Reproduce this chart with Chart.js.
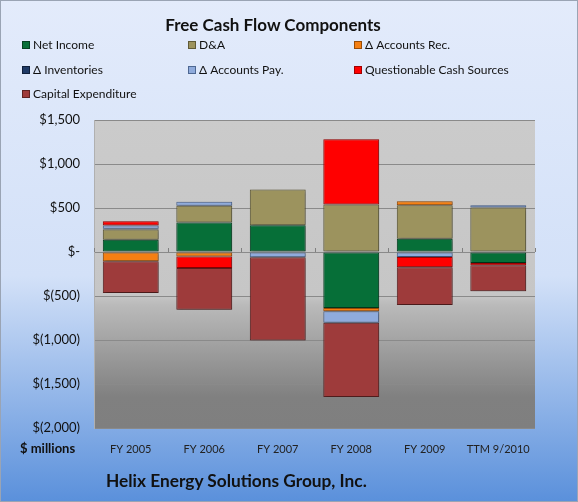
<!DOCTYPE html>
<html>
<head>
<meta charset="utf-8">
<script src="https://cdn.jsdelivr.net/npm/chart.js@4"></script>
<style>
	html, body { margin: 0; padding: 0; }
	body { width: 578px; height: 502px; overflow: hidden; font-family: Lato, "Open Sans", sans-serif; }
	#wrap { position: relative; width: 578px; height: 502px; }
	#chart { position: absolute; left: 0; top: 0; }
	.txt { position: absolute; color: #111; white-space: nowrap; }
	.title { left: 0; width: 546px; top: 14px; text-align: center; font-weight: bold; font-size: 17px; }
	.leg { position: absolute; font-size: 12px; color: #111; line-height: 14px; }
	.leg i { display: inline-block; width: 8px; height: 8px; margin-right: 3px; box-sizing: border-box; }
	.foot { left: 106px; top: 470px; font-weight: bold; font-size: 17.3px; }
	.unit { left: 20px; top: 440px; font-weight: bold; font-size: 13px; }
</style>
</head>
<body>
<div id="wrap">
	<canvas id="chart" width="578" height="502"></canvas>
	<div class="txt title">Free Cash Flow Components</div>
	<div id="legend"></div>
	<div class="txt unit">$ millions</div>
	<div class="txt foot">Helix Energy Solutions Group, Inc.</div>
</div>
<script>
const categories = ['FY 2005', 'FY 2006', 'FY 2007', 'FY 2008', 'FY 2009', 'TTM 9/2010'];
const netIncome = [140, 335, 305, -636, 150, -125];
const depreciation = [115, 190, 405, 540, 380, 505];
const accountsRec = [-105, -50, 0, -38, 48, 0];
const inventories = [10, 0, 0, 0, 0, 0];
const accountsPay = [35, 45, -60, -130, -57, 27];
const questionable = [50, -133, 0, 740, -117, -25];
const capex = [-360, -472, -945, -845, -428, -295];
const yTicks = [1500, 1000, 500, 0, -500, -1000, -1500, -2000];

const series = [
	{ label: 'Net Income', data: netIncome, color: '#066f38', edge: '#034020' },
	{ label: 'D&A', data: depreciation, color: '#9c935e', edge: '#5f5a38' },
	{ label: 'Δ Accounts Rec.', data: accountsRec, color: '#f57f12', edge: '#9a4c06' },
	{ label: 'Δ Inventories', data: inventories, color: '#1f3a66', edge: '#0f1f3a' },
	{ label: 'Δ Accounts Pay.', data: accountsPay, color: '#8fabdc', edge: '#4d6792' },
	{ label: 'Questionable Cash Sources', data: questionable, color: '#ff0000', edge: '#a00000' },
	{ label: 'Capital Expenditure', data: capex, color: '#9e3b3b', edge: '#5e2222' }
];

// legend in three columns
const legX = [22, 188, 354];
const legY = [38, 63, 87];
const legBox = document.getElementById('legend');
series.forEach((s, i) => {
	const d = document.createElement('div');
	d.className = 'leg';
	d.style.left = legX[i % 3] + 'px';
	d.style.top = legY[Math.floor(i / 3)] + 'px';
	d.innerHTML = `<i style="background:${s.color};border:1px solid ${s.edge}"></i>${s.label}`;
	legBox.append(d);
});

function money(v) {
	if (v === 0) return '$-';
	const s = Math.abs(v).toLocaleString('en-US');
	return v < 0 ? '$(' + s + ')' : '$' + s;
}

const backgrounds = {
	id: 'backgrounds',
	beforeDraw(chart) {
		const { ctx, chartArea: a, width, height } = chart;
		ctx.save();
		const g = ctx.createLinearGradient(0, 0, 0, height);
		g.addColorStop(0, '#e3ebfb');
		g.addColorStop(0.55, '#d3e1f8');
		g.addColorStop(1, '#5a90db');
		ctx.fillStyle = g;
		ctx.fillRect(0, 0, width, height);
		ctx.strokeStyle = '#9aa4b4';
		ctx.lineWidth = 1;
		ctx.strokeRect(0.5, 0.5, width - 1, height - 1);
		const p = ctx.createLinearGradient(0, a.top, 0, a.bottom);
		p.addColorStop(0, '#cbcbcb');
		p.addColorStop(0.57, '#c6c6c6');
		p.addColorStop(0.6, '#bababa');
		p.addColorStop(0.9, '#808080');
		p.addColorStop(1, '#7f7f7f');
		ctx.fillStyle = p;
		ctx.fillRect(a.left, a.top, a.right - a.left, a.bottom - a.top);
		ctx.restore();
	},
	beforeDatasetsDraw(chart) {
		// soft drop shadow under the bars
		chart.ctx.save();
		chart.ctx.shadowColor = 'rgba(0,0,0,0.35)';
		chart.ctx.shadowBlur = 3;
		chart.ctx.shadowOffsetX = 1;
		chart.ctx.shadowOffsetY = 1;
	},
	afterDatasetsDraw(chart) {
		chart.ctx.restore();
		// small tick marks on the zero line between categories
		const { ctx, chartArea: a, scales } = chart;
		const y0 = scales.y.getPixelForValue(0);
		const step = (a.right - a.left) / categories.length;
		ctx.save();
		ctx.strokeStyle = '#808080';
		ctx.lineWidth = 1;
		for (let i = 0; i <= categories.length; i++) {
			const x = Math.round(a.left + i * step) + 0.5;
			ctx.beginPath();
			ctx.moveTo(x, y0);
			ctx.lineTo(x, y0 - 4);
			ctx.stroke();
		}
		ctx.restore();
	}
};

new Chart(document.getElementById('chart'), {
	type: 'bar',
	data: {
		labels: categories,
		datasets: series.map(s => ({
			label: s.label,
			data: s.data,
			backgroundColor: s.color,
			borderColor: s.edge,
			borderWidth: 1,
			borderSkipped: false,
			stack: 'fcf',
			categoryPercentage: 1,
			barPercentage: 0.76
		}))
	},
	options: {
		responsive: false,
		animation: false,
		devicePixelRatio: 1,
		layout: { padding: { left: 0, top: 120, right: 43, bottom: 44 } },
		plugins: { legend: { display: false }, title: { display: false }, tooltip: { enabled: false } },
		scales: {
			x: {
				stacked: true,
				grid: { display: false },
				border: { display: false },
				ticks: { color: '#222', font: { family: 'Lato', size: 11 }, padding: 7 },
				afterFit(s) { s.height = 30; }
			},
			y: {
				stacked: true,
				min: -2000,
				max: 1500,
				afterBuildTicks(s) { s.ticks = yTicks.map(v => ({ value: v })); },
				grid: { color: '#8a8a8a', drawTicks: false, lineWidth: 1 },
				border: { display: true, color: '#b0b0b0' },
				ticks: { color: '#111', font: { family: 'Lato', size: 13 }, padding: 14, callback: v => money(v) },
				afterFit(s) { s.width = 94; }
			}
		}
	},
	plugins: [backgrounds]
});
</script>
</body>
</html>
